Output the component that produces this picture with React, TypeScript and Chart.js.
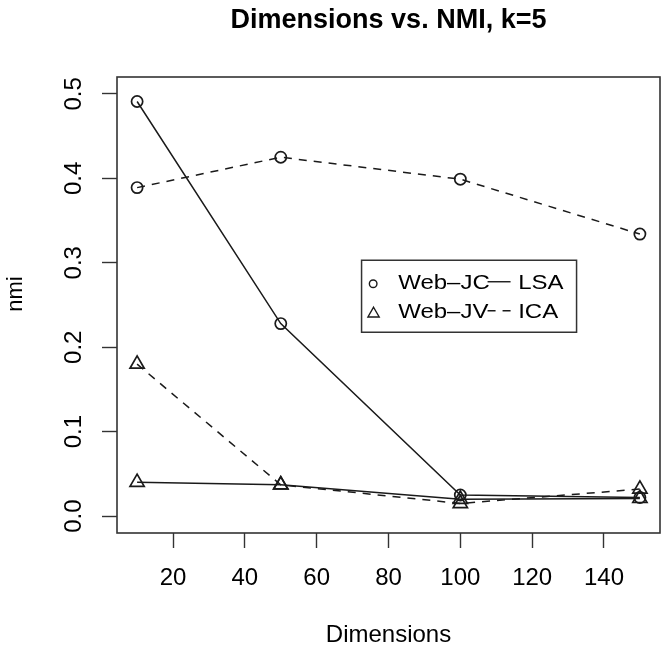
import React, { useEffect, useRef } from 'react';
import { Chart, registerables } from 'chart.js';

Chart.register(...registerables);

// Number of retained dimensions on the x axis
const dimensions = [10, 50, 100, 150];

// NMI per dimension count, one array per weighting / decomposition pair
const webJcLsa = [0.491, 0.228, 0.025, 0.022];
const webJcIca = [0.389, 0.425, 0.399, 0.334];
const webJvLsa = [0.04, 0.037, 0.02, 0.021];
const webJvIca = [0.18, 0.037, 0.015, 0.032];

const xTicks = [20, 40, 60, 80, 100, 120, 140];
const yTicks = [0, 0.1, 0.2, 0.3, 0.4, 0.5];
const yTickLabels = ['0.0', '0.1', '0.2', '0.3', '0.4', '0.5'];

const legendGroups = ['Web–JC', 'Web–JV'];
const legendMethods = ['LSA', 'ICA'];

const TITLE = 'Dimensions vs. NMI, k=5';
const X_TITLE = 'Dimensions';
const Y_TITLE = 'nmi';

const FONT = "'Liberation Sans', Arial, Helvetica, sans-serif";
const INK = '#1a1a1a';
const FRAME = '#333333';
const DASH = [8, 7];

type Marker = 'circle' | 'triangle';

const series: { label: string; values: number[]; marker: Marker; dash: number[] }[] = [
  { label: 'Web–JC LSA', values: webJcLsa, marker: 'circle', dash: [] },
  { label: 'Web–JC ICA', values: webJcIca, marker: 'circle', dash: DASH },
  { label: 'Web–JV LSA', values: webJvLsa, marker: 'triangle', dash: [] },
  { label: 'Web–JV ICA', values: webJvIca, marker: 'triangle', dash: DASH },
];

// Draws the closed plot frame, the rotated y-axis title and the two-column key
const frameAndKey = {
  id: 'frameAndKey',
  afterDraw(chart: any) {
    const { ctx, chartArea: a, scales } = chart;
    ctx.save();

    ctx.strokeStyle = FRAME;
    ctx.lineWidth = 1.6;
    ctx.setLineDash([]);
    ctx.strokeRect(a.left, a.top, a.right - a.left, a.bottom - a.top);

    // y-axis title
    ctx.save();
    ctx.translate(16, (a.top + a.bottom) / 2 - 11);
    ctx.rotate(-Math.PI / 2);
    ctx.font = `22px ${FONT}`;
    ctx.fillStyle = '#000';
    ctx.textAlign = 'center';
    ctx.textBaseline = 'middle';
    ctx.fillText(Y_TITLE, 0, 0);
    ctx.restore();

    // key
    const L = scales.x.getPixelForValue(72.5);
    const T = scales.y.getPixelForValue(0.303);
    const W = 215;
    const H = 72;
    ctx.fillStyle = '#fff';
    ctx.fillRect(L, T, W, H);
    ctx.strokeStyle = FRAME;
    ctx.lineWidth = 1.5;
    ctx.strokeRect(L, T, W, H);

    const rows = [T + 21.5, T + 50.5];
    const textSize = 20;
    const capHalf = 0.358 * textSize;
    const wideText = (text: string, x: number, cy: number) => {
      ctx.save();
      ctx.translate(x, cy + capHalf);
      ctx.scale(1.2, 1);
      ctx.font = `${textSize}px ${FONT}`;
      ctx.fillStyle = '#000';
      ctx.textAlign = 'left';
      ctx.textBaseline = 'alphabetic';
      ctx.fillText(text, 0, 0);
      ctx.restore();
    };

    legendGroups.forEach((g, i) => {
      const cy = rows[i];
      ctx.strokeStyle = INK;
      ctx.lineWidth = 1.4;
      ctx.setLineDash([]);
      ctx.beginPath();
      if (i === 0) {
        ctx.arc(L + 11.6, cy + 2, 3.8, 0, Math.PI * 2);
      } else {
        const r = 6.5;
        const cx = L + 12;
        const cyy = cy + 3;
        for (let k = 0; k < 3; k++) {
          const ang = (k * 2 * Math.PI) / 3;
          const px = cx + Math.sin(ang) * r;
          const py = cyy - Math.cos(ang) * r;
          if (k === 0) ctx.moveTo(px, py);
          else ctx.lineTo(px, py);
        }
        ctx.closePath();
      }
      ctx.stroke();
      wideText(g, L + 36.6, cy);
    });

    legendMethods.forEach((m, i) => {
      const cy = rows[i];
      ctx.strokeStyle = INK;
      ctx.lineWidth = 1.4;
      ctx.setLineDash(i === 0 ? [] : DASH);
      ctx.beginPath();
      ctx.moveTo(L + 126, cy);
      ctx.lineTo(L + 149, cy);
      ctx.stroke();
      ctx.setLineDash([]);
      wideText(m, L + 156.6, cy);
    });

    ctx.restore();
  },
};

export default function App() {
  const ref = useRef<HTMLCanvasElement>(null);

  useEffect(() => {
    const tickFont = { family: FONT, size: 24 };
    const chart = new Chart(ref.current as HTMLCanvasElement, {
      type: 'line',
      data: {
        datasets: series.map((s) => ({
          label: s.label,
          data: dimensions.map((d, i) => ({ x: d, y: s.values[i] })),
          borderColor: INK,
          borderWidth: 1.5,
          borderDash: s.dash,
          fill: false,
          tension: 0,
          pointStyle: s.marker,
          pointRadius: s.marker === 'circle' ? 5.6 : 8.2,
          pointBorderWidth: 1.7,
          pointBorderColor: INK,
          pointBackgroundColor: 'rgba(0,0,0,0)',
        })),
      },
      options: {
        responsive: false,
        animation: false,
        devicePixelRatio: 1,
        layout: { autoPadding: false, padding: { left: 0, right: 2, top: 0, bottom: 0 } },
        plugins: {
          legend: { display: false },
          tooltip: { enabled: false },
          title: {
            display: true,
            text: TITLE,
            fullSize: false,
            color: '#000',
            font: { family: FONT, size: 27, weight: 'bold' },
            padding: { top: 4.5, bottom: 40.1 },
          },
        },
        scales: {
          x: {
            type: 'linear',
            min: 4.4,
            max: 155.6,
            afterBuildTicks: (s: any) => {
              s.ticks = xTicks.map((v) => ({ value: v }));
            },
            afterFit: (s: any) => {
              s.height = 123;
              s.paddingLeft = 0;
              s.paddingRight = 0;
            },
            border: { display: false },
            grid: {
              drawOnChartArea: false,
              drawTicks: true,
              tickLength: 15,
              tickColor: FRAME,
              tickWidth: 1.4,
            },
            ticks: {
              color: '#000',
              font: tickFont,
              padding: 15.6,
              maxRotation: 0,
              autoSkip: false,
            },
            title: {
              display: true,
              text: X_TITLE,
              color: '#000',
              font: tickFont,
              padding: { top: 0, bottom: 5.8 },
            },
          },
          y: {
            type: 'linear',
            min: -0.02,
            max: 0.52,
            afterBuildTicks: (s: any) => {
              s.ticks = yTicks.map((v) => ({ value: v }));
            },
            afterFit: (s: any) => {
              s.width = 117;
              s.paddingTop = 0;
              s.paddingBottom = 0;
            },
            border: { display: false },
            grid: {
              drawOnChartArea: false,
              drawTicks: true,
              tickLength: 15,
              tickColor: FRAME,
              tickWidth: 1.4,
            },
            ticks: {
              color: '#000',
              font: tickFont,
              padding: 11,
              minRotation: 90,
              maxRotation: 90,
              crossAlign: 'center',
              autoSkip: false,
              callback: (_v: any, i: number) => yTickLabels[i],
            },
          },
        },
      },
      plugins: [frameAndKey],
    } as any);
    return () => chart.destroy();
  }, []);

  return (
    <div style={{ position: 'fixed', left: 0, top: 0, width: 662, height: 656, background: '#fff' }}>
      <canvas ref={ref} width={662} height={656} style={{ display: 'block' }} />
    </div>
  );
}
